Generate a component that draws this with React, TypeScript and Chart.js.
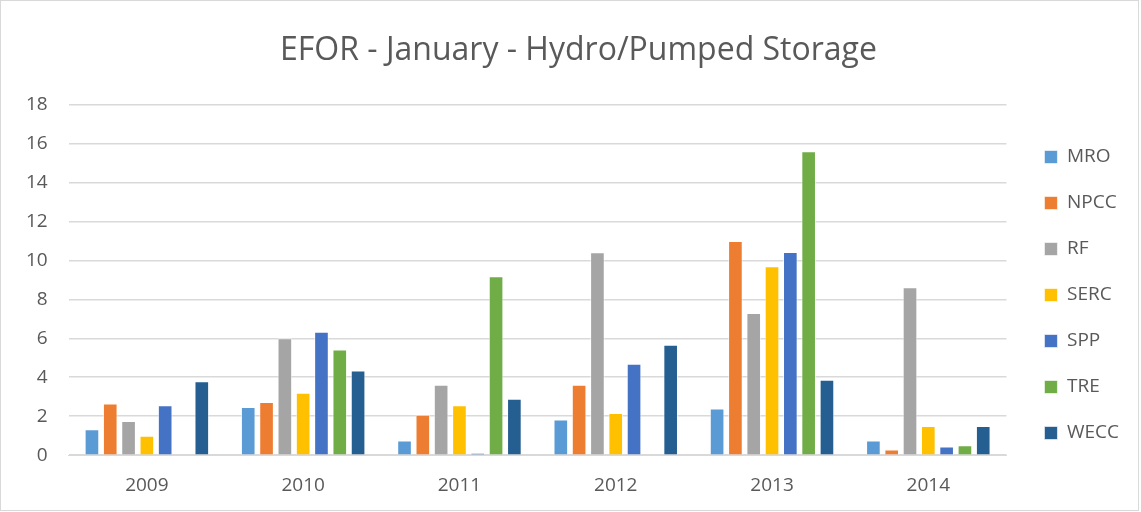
import React, { useEffect, useRef } from "react";
import { Chart, registerables } from "chart.js";

Chart.register(...registerables);

const years = ["2009", "2010", "2011", "2012", "2013", "2014"];
const MRO = [1.33, 2.47, 0.75, 1.83, 2.39, 0.75];
const NPCC = [2.65, 2.73, 2.08, 3.62, 10.99, 0.29];
const RF = [1.76, 6.0, 3.62, 10.41, 7.3, 8.62];
const SERC = [1.0, 3.21, 2.56, 2.17, 9.69, 1.5];
const SPP = [2.56, 6.33, 0.12, 4.69, 10.43, 0.44];
const TRE = [null, 5.43, 9.18, null, 15.6, 0.51];
const WECC = [3.79, 4.35, 2.9, 5.67, 3.87, 1.5];

const seriesNames = ["MRO", "NPCC", "RF", "SERC", "SPP", "TRE", "WECC"];
const seriesData = [MRO, NPCC, RF, SERC, SPP, TRE, WECC];
const seriesColors = ["#5B9BD5", "#ED7D31", "#A5A5A5", "#FFC000", "#4472C4", "#70AD47", "#255E91"];

const FONT = "'Open Sans', 'Liberation Sans', sans-serif";

const shiftBoxes = {
  id: "shiftBoxes",
  afterLayout(chart: any) {
    const l = chart.legend;
    if (l) {
      l.left += 11;
      l.right += 11;
    }
    const t = chart.titleBlock;
    if (t) {
      t.left += 17;
      t.right += 17;
    }
  },
};

export default function App() {
  const ref = useRef<HTMLCanvasElement | null>(null);
  useEffect(() => {
    document.body.style.margin = "0";
    const chart = new Chart(ref.current as HTMLCanvasElement, {
      type: "bar",
      data: {
        labels: years,
        datasets: seriesNames.map((n, i) => ({
          label: n,
          data: seriesData[i],
          backgroundColor: seriesColors[i],
          borderColor: "rgba(255,255,255,0.6)",
          borderWidth: 1,
          categoryPercentage: 0.82,
          barPercentage: 0.8,
        })),
      },
      options: {
        animation: false,
        responsive: false,
        maintainAspectRatio: false,
        layout: { padding: { top: 31, left: 4, right: 20, bottom: -6 } },
        plugins: {
          title: {
            display: true,
            text: "EFOR - January - Hydro/Pumped Storage",
            color: "#595959",
            font: { family: FONT, size: 32, weight: "normal" },
            padding: { top: 0, bottom: 34 },
          },
          legend: {
            position: "right",
            title: { display: true, text: " ", font: { size: 10 }, padding: 15 },
            labels: {
              color: "#595959",
              font: { family: FONT, size: 19 },
              boxWidth: 13,
              boxHeight: 13,
              padding: 27,
            },
          },
          tooltip: { enabled: false },
        },
        scales: {
          x: {
            grid: { display: false, drawTicks: false },
            border: { color: "#d9d9d9" },
            ticks: { color: "#595959", font: { family: FONT, size: 19 }, padding: 19 },
          },
          y: {
            min: 0,
            max: 18,
            ticks: { stepSize: 2, color: "#595959", font: { family: FONT, size: 19 }, padding: 21 },
            grid: { color: "#d9d9d9", lineWidth: 1.5, drawTicks: false },
            border: { display: false },
          },
        },
      },
      plugins: [shiftBoxes],
    });
    return () => chart.destroy();
  }, []);
  return (
    <div style={{ width: 1137, height: 509, border: "1px solid #d9d9d9", background: "#fff" }}>
      <canvas ref={ref} width={1137} height={509} />
    </div>
  );
}
